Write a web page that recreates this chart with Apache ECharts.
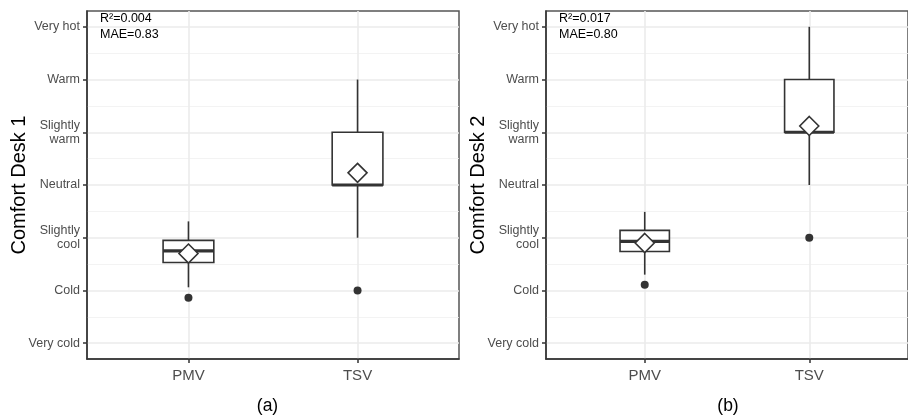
<!DOCTYPE html>
<html>
<head>
<meta charset="utf-8">
<script src="https://cdn.jsdelivr.net/npm/echarts@6/dist/echarts.min.js"></script>
<style>html,body{margin:0;padding:0;background:#fff;}#c{width:908px;height:418px;}</style>
</head>
<body>
<div id="c"></div>
<script>
// ---- data ----
const categories = ['PMV', 'TSV'];
const catPos = [1, 2];
const yTickVals = [-3, -2, -1, 0, 1, 2, 3];
const yTickLabels = ['Very cold', 'Cold', 'Slightly\ncool', 'Neutral', 'Slightly\nwarm', 'Warm', 'Very hot'];
const yMinorVals = [-2.5, -1.5, -0.5, 0.5, 1.5, 2.5];
const panelTitles = ['Comfort Desk 1', 'Comfort Desk 2'];
const panelCaptions = ['(a)', '(b)'];
const r2Values = ['0.004', '0.017'];
const maeValues = ['0.83', '0.80'];
// box stats per category: [lowWhisker, q1, median, q3, highWhisker]
const desk1Box = [[-1.94, -1.47, -1.25, -1.05, -0.69], [-1, 0, 0, 1, 2]];
const desk1Mean = [-1.30, 0.23];
const desk1Outlier = [-2.14, -2];
const desk2Box = [[-1.70, -1.26, -1.07, -0.86, -0.51], [0, 1, 1, 2, 3]];
const desk2Mean = [-1.10, 1.12];
const desk2Outlier = [-1.89, -1];

const boxes = [desk1Box, desk2Box];
const means = [desk1Mean, desk2Mean];
const outliers = [desk1Outlier, desk2Outlier];

const FONT = '"Liberation Sans", Arial, Helvetica, sans-serif';
const DARK = '#333333';
const gridLefts = [87, 546];

function renderBox(params, api) {
  const x = api.value(0);
  const lo = api.coord([x, api.value(1)]);
  const q1 = api.coord([x, api.value(2)]);
  const med = api.coord([x, api.value(3)]);
  const q3 = api.coord([x, api.value(4)]);
  const hi = api.coord([x, api.value(5)]);
  const half = api.size([0.3, 0])[0] / 2;
  const ls = { stroke: DARK, lineWidth: 1.6 };
  return {
    type: 'group',
    children: [
      { type: 'line', shape: { x1: lo[0], y1: lo[1], x2: q1[0], y2: q1[1] }, style: ls },
      { type: 'line', shape: { x1: q3[0], y1: q3[1], x2: hi[0], y2: hi[1] }, style: ls },
      { type: 'rect', shape: { x: q3[0] - half, y: q3[1], width: 2 * half, height: q1[1] - q3[1] },
        style: { fill: '#ffffff', stroke: DARK, lineWidth: 1.6 } },
      { type: 'line', shape: { x1: med[0] - half, y1: med[1], x2: med[0] + half, y2: med[1] },
        style: { stroke: DARK, lineWidth: 3.2 } }
    ]
  };
}

const grids = [], xAxes = [], yAxes = [], series = [], graphics = [];
for (let g = 0; g < 2; g++) {
  grids.push({ left: gridLefts[g], top: 11, width: 372, height: 348, show: true,
    borderColor: '#555', borderWidth: 1.5, backgroundColor: 'transparent' });
  xAxes.push({
    gridIndex: g, type: 'value', min: 0.4, max: 2.6,
    axisLine: { show: true, onZero: false, lineStyle: { color: DARK, width: 1.5 } },
    axisTick: { show: true, customValues: catPos, length: 4, lineStyle: { color: DARK, width: 1.5 } },
    axisLabel: { customValues: catPos, formatter: v => categories[catPos.indexOf(Math.round(v))],
      fontSize: 15, color: '#4d4d4d', fontFamily: FONT, margin: 9 },
    splitLine: { show: true, lineStyle: { color: '#ebebeb', width: 1.6 } }
  });
}
for (let g = 0; g < 2; g++) {
  yAxes.push({
    gridIndex: g, type: 'value', min: -3.3, max: 3.3, position: 'left',
    name: panelTitles[g], nameLocation: 'middle', nameGap: 58, nameMoveOverlap: false,
    nameTextStyle: { fontSize: 20, color: '#000', fontFamily: FONT },
    axisLine: { show: true, onZero: false, lineStyle: { color: DARK, width: 1.5 } },
    axisTick: { show: true, customValues: yTickVals, length: 4, lineStyle: { color: DARK, width: 1.5 } },
    axisLabel: { customValues: yTickVals, formatter: v => yTickLabels[yTickVals.indexOf(Math.round(v))],
      fontSize: 12.5, lineHeight: 14, color: '#4d4d4d', fontFamily: FONT, margin: 7, align: 'right' },
    splitLine: { show: true, lineStyle: { color: '#ebebeb', width: 1.6 } }
  });
}
for (let g = 0; g < 2; g++) {
  yAxes.push({
    gridIndex: g, type: 'value', min: -3.3, max: 3.3, position: 'left',
    axisLine: { show: false }, axisLabel: { show: false },
    axisTick: { show: false, customValues: yMinorVals },
    splitLine: { show: true, lineStyle: { color: '#f0f0f0', width: 0.8 } }
  });
}
for (let g = 0; g < 2; g++) {
  series.push({
    type: 'custom', xAxisIndex: g, yAxisIndex: g, renderItem: renderBox,
    encode: { x: 0, y: [1, 2, 3, 4, 5] },
    data: catPos.map((p, i) => [p].concat(boxes[g][i])), z: 3
  });
  series.push({
    type: 'scatter', xAxisIndex: g, yAxisIndex: g, symbol: 'circle', symbolSize: 8,
    itemStyle: { color: DARK, opacity: 1 }, data: catPos.map((p, i) => [p, outliers[g][i]]), z: 4
  });
  series.push({
    type: 'scatter', xAxisIndex: g, yAxisIndex: g, symbol: 'diamond', symbolSize: 19,
    itemStyle: { color: '#ffffff', borderColor: DARK, borderWidth: 1.6, opacity: 1 },
    data: catPos.map((p, i) => [p, means[g][i]]), z: 5
  });
  graphics.push({
    type: 'text', x: gridLefts[g] + 13, y: 11, z: 10,
    style: { text: 'R²=' + r2Values[g] + '\nMAE=' + maeValues[g], font: '12.5px ' + FONT,
      fill: '#000', lineHeight: 16, textAlign: 'left', textVerticalAlign: 'top' }
  });
  graphics.push({
    type: 'text', x: [267.5, 728][g], y: 406, z: 10,
    style: { text: panelCaptions[g], font: '17.5px ' + FONT, fill: '#000',
      textAlign: 'center', textVerticalAlign: 'middle' }
  });
}

const chart = echarts.init(document.getElementById('c'), null, { renderer: 'canvas' });
chart.setOption({
  animation: false,
  backgroundColor: '#ffffff',
  grid: grids, xAxis: xAxes, yAxis: yAxes, series: series, graphic: graphics,
  tooltip: { show: false }
});
</script>
</body>
</html>
